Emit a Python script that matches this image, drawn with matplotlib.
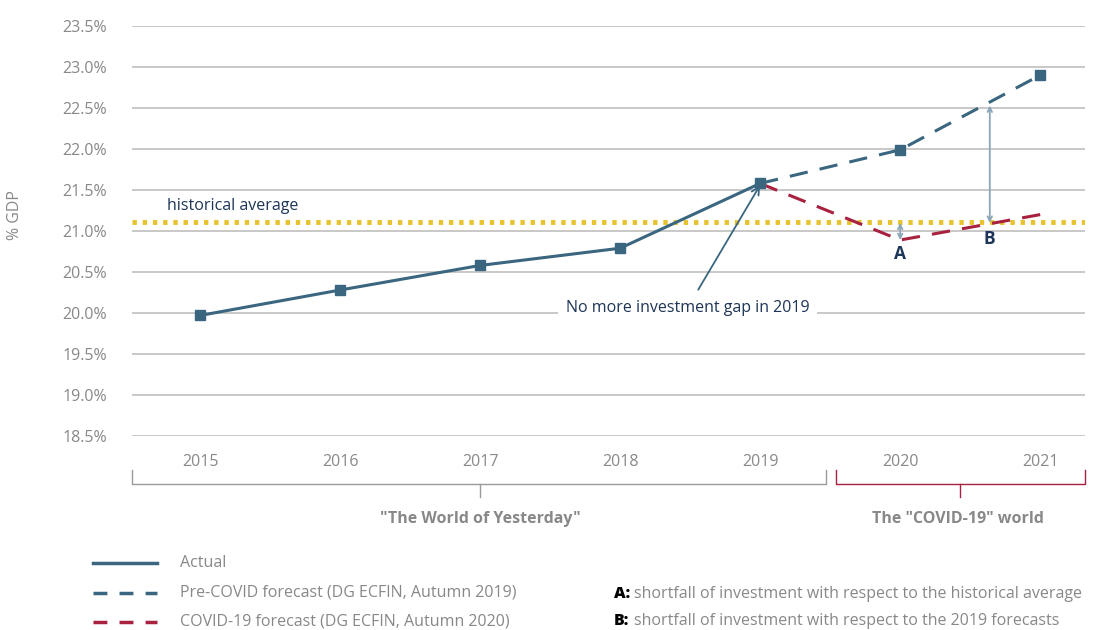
import matplotlib.pyplot as plt
from matplotlib.lines import Line2D
import matplotlib.transforms as mtransforms

plt.rcParams['font.family'] = ['Open Sans', 'DejaVu Sans']

years = ['2015', '2016', '2017', '2018', '2019', '2020', '2021']
actual = [19.97, 20.28, 20.58, 20.79, 21.58]
pre_covid = [21.58, 21.99, 22.90]
covid = [21.58, 20.89, 21.20]
hist_avg = 21.11
yticks = [18.5, 19.0, 19.5, 20.0, 20.5, 21.0, 21.5, 22.0, 22.5, 23.0, 23.5]

BLUE = '#3a6680'
RED = '#a8213f'
YELLOW = '#e8c22c'
NAVY = '#1d3557'
GREY = '#888888'
GRID = '#bfbfbf'

fig = plt.figure(figsize=(11.04, 6.3), dpi=100)
ax = fig.add_axes([132/1104, 1-436/630, (1085-132)/1104, 410/630])

x = list(range(len(years)))
ax.set_xlim(-0.486, 6.32)
ax.set_ylim(18.5, 23.5)

for v in yticks:
    ax.axhline(v, color=GRID, lw=1.2, zorder=1)

ax.axhline(hist_avg, color=YELLOW, lw=3.5, ls=(0, (0.9, 1.2)), zorder=2)

ax.plot(x[:5], actual, color=BLUE, lw=2.2, marker='s', ms=6.5, zorder=5)
ax.plot(x[4:], pre_covid, color=BLUE, lw=2.2, ls=(0, (6, 4)), zorder=4)
ax.plot(x[5:], pre_covid[1:], ls='none', color=BLUE, marker='s', ms=6.5, zorder=5)
ax.plot(x[4:], covid, color=RED, lw=2.2, ls=(0, (6, 4)), zorder=4)

for s in ax.spines.values():
    s.set_visible(False)
ax.set_xticks([])
ax.set_yticks(yticks)
ax.set_yticklabels(['%.1f%%' % v for v in yticks], color=GREY, fontsize=11.5)
ax.tick_params(axis='y', length=0, pad=18)

fig.text(15/1104, 1-215/630, '% GDP', rotation=90, color=GREY, fontsize=11.5,
         ha='center', va='center')

ax.text(-0.235, 21.3, 'historical average', color=NAVY, fontsize=11.5,
        ha='left', va='center', zorder=6)

# annotation arrow
ax.annotate('No more investment gap in 2019', xy=(4.0, 21.56), xytext=(3.48, 20.06),
            color=NAVY, fontsize=11.5, ha='center', va='center', zorder=7,
            bbox=dict(boxstyle='square,pad=0.5', fc='white', ec='none'),
            arrowprops=dict(arrowstyle='->', color=BLUE, lw=1.3,
                            shrinkA=2, shrinkB=0, mutation_scale=14))

# shortfall arrows
ax.annotate('', xy=(5.0, hist_avg - 0.01), xytext=(5.0, covid[1]),
            arrowprops=dict(arrowstyle='<->', color='#8ca6b8', lw=1.3,
                            shrinkA=0, shrinkB=0, mutation_scale=8), zorder=3)
ax.annotate('', xy=(5.64, 22.53), xytext=(5.64, hist_avg - 0.01),
            arrowprops=dict(arrowstyle='<->', color='#8ca6b8', lw=1.3,
                            shrinkA=0, shrinkB=0, mutation_scale=8), zorder=3)
ax.text(5.0, 20.72, 'A', color=NAVY, fontsize=12.5, fontweight='bold',
        ha='center', va='center')
ax.text(5.64, 20.90, 'B', color=NAVY, fontsize=12.5, fontweight='bold',
        ha='center', va='center')

# year labels and brackets
tr = mtransforms.blended_transform_factory(ax.transData, ax.transAxes)
for i, yr in enumerate(years):
    ax.text(i, -0.063, yr, transform=tr, color=GREY, fontsize=11.5,
            ha='center', va='center')

def bracket(x0, x1, xc, color):
    ax.plot([x0, x0, x1, x1], [-0.083, -0.117, -0.117, -0.083], transform=tr,
            color=color, lw=1, clip_on=False)
    ax.plot([xc, xc], [-0.117, -0.149], transform=tr, color=color, lw=1,
            clip_on=False)

bracket(-0.486, 4.47, 2.0, '#9a9a9a')
bracket(4.54, 6.32, 5.43, RED)
ax.text(2.0, -0.202, '"The World of Yesterday"', transform=tr, color=GREY,
        fontsize=11.5, fontweight='bold', ha='center', va='center')
ax.text(5.41, -0.202, 'The "COVID-19" world', transform=tr, color=GREY,
        fontsize=11.5, fontweight='bold', ha='center', va='center')

# legend
legend_items = [
    ('Actual', BLUE, '-'),
    ('Pre-COVID forecast (DG ECFIN, Autumn 2019)', BLUE, (0, (4, 3.5))),
    ('COVID-19 forecast (DG ECFIN, Autumn 2020)', RED, (0, (4, 3.5))),
]
for k, (lab, col, ls) in enumerate(legend_items):
    yy = 1 - (563 + 29.5*k)/630
    fig.add_artist(Line2D([93/1104, 157/1104], [yy, yy], color=col, lw=2.5, ls=ls))
    fig.text(180/1104, yy, lab, color=GREY, fontsize=11.5, ha='left', va='center')

notes = [('A:', 'shortfall of investment with respect to the historical average'),
         ('B:', 'shortfall of investment with respect to the 2019 forecasts')]
for k, (a, b) in enumerate(notes):
    yy = 1 - (594 + 27*k)/630
    fig.text(614/1104, yy, a, color='black', fontsize=11.5, fontweight='heavy',
             ha='left', va='center')
    fig.text(634/1104, yy, b, color=GREY, fontsize=11.5, ha='left', va='center')

fig.savefig('out.png', dpi=100)
